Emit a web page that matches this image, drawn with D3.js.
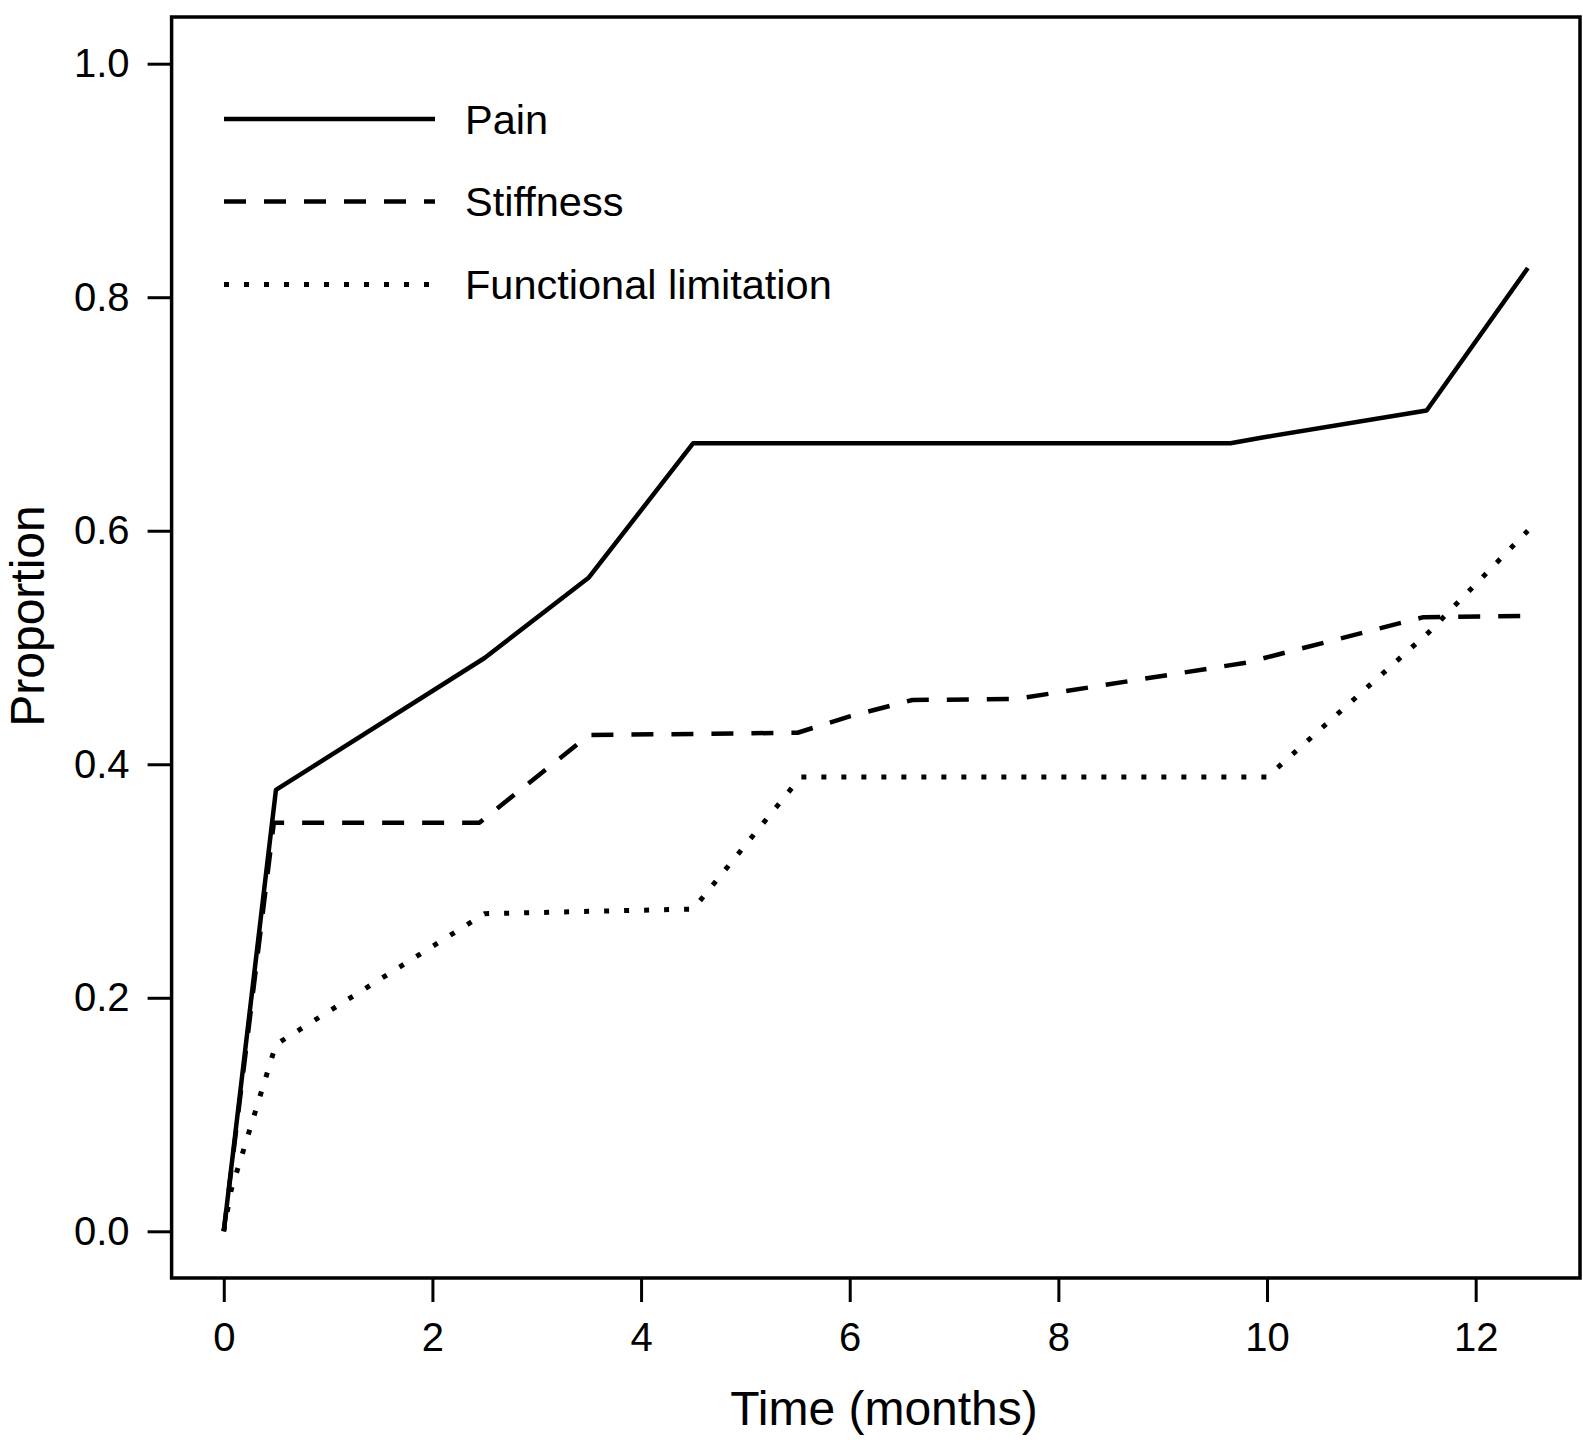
<!DOCTYPE html>
<html>
<head>
<meta charset="utf-8">
<script src="https://cdn.jsdelivr.net/npm/d3@7"></script>
<style>
  html, body { margin: 0; padding: 0; background: #fff; }
  text { font-family: "Liberation Sans", Arial, Helvetica, sans-serif; fill: #000; }
</style>
</head>
<body>
<svg id="chart" width="1583" height="1451"></svg>
<script>
// ---- Data ----
const painTime = [0, 0.5, 2.5, 3.5, 4.5, 9.65, 9.97, 11.53, 12.5];
const painProp = [0, 0.378, 0.491, 0.56, 0.675, 0.675, 0.680, 0.703, 0.825];

const stiffTime = [0, 0.48, 2.45, 3.5, 5.5, 6.0, 6.6, 7.6, 9.8, 11.5, 12.5];
const stiffProp = [0, 0.35, 0.35, 0.425, 0.427, 0.441, 0.455, 0.456, 0.487, 0.526, 0.527];

const funcTime = [0, 0.07, 0.5, 2.5, 4.5, 5.53, 10.0, 11.55, 12.5];
const funcProp = [0, 0.035, 0.16, 0.272, 0.276, 0.389, 0.389, 0.513, 0.600];

const seriesNames = ["Pain", "Stiffness", "Functional limitation"];
const xTicks = [0, 2, 4, 6, 8, 10, 12];
const yTicks = [0.0, 0.2, 0.4, 0.6, 0.8, 1.0];
const xTitle = "Time (months)";
const yTitle = "Proportion";

// ---- Layout ----
const svg = d3.select("#chart");
const L = 171.6, R = 1580, T = 17, B = 1278;

const x = d3.scaleLinear().domain([-0.5, 13]).range([L, R]);
const y = d3.scaleLinear().domain([-0.04, 1.04]).range([B, T]);

const series = [
  { name: seriesNames[0], t: painTime, p: painProp, dash: null, w: 4.5 },
  { name: seriesNames[1], t: stiffTime, p: stiffProp, dash: "22,18", w: 4.5 },
  { name: seriesNames[2], t: funcTime, p: funcProp, dash: "5,15", w: 5 }
];

const line = d3.line().x(d => x(d[0])).y(d => y(d[1])).curve(d3.curveLinear);

series.forEach(s => {
  const pts = s.t.map((v, i) => [v, s.p[i]]);
  svg.append("path")
    .attr("d", line(pts))
    .attr("fill", "none")
    .attr("stroke", "#000")
    .attr("stroke-width", s.w)
    .attr("stroke-linejoin", "round")
    .attr("stroke-dasharray", s.dash);
});

// ---- Axes ----
const xAxis = d3.axisBottom(x).tickValues(xTicks).tickSize(24).tickPadding(21).tickFormat(d3.format("d"));
const gx = svg.append("g").attr("transform", `translate(0,${B})`).call(xAxis);
gx.select(".domain").remove();
gx.selectAll(".tick line").attr("stroke", "#000").attr("stroke-width", 3);
gx.selectAll(".tick text").style("font-size", "40px").attr("fill", "#000");

const yAxis = d3.axisLeft(y).tickValues(yTicks).tickSize(24).tickPadding(18).tickFormat(d3.format(".1f"));
const gy = svg.append("g").attr("transform", `translate(${L},0)`).call(yAxis);
gy.select(".domain").remove();
gy.selectAll(".tick line").attr("stroke", "#000").attr("stroke-width", 3);
gy.selectAll(".tick text").style("font-size", "40px").attr("fill", "#000").attr("dy", "0.33em");

// ---- Box ----
svg.append("rect")
  .attr("x", L).attr("y", T)
  .attr("width", R - L).attr("height", B - T)
  .attr("fill", "none").attr("stroke", "#000").attr("stroke-width", 3.5);

// ---- Axis titles ----
svg.append("text")
  .attr("x", 884).attr("y", 1425)
  .attr("text-anchor", "middle")
  .style("font-size", "48px")
  .text(xTitle);

svg.append("text")
  .attr("transform", "translate(44,616) rotate(-90)")
  .attr("text-anchor", "middle")
  .style("font-size", "48px")
  .text(yTitle);

// ---- Legend ----
const legY = [119, 201.5, 284.5];
series.forEach((s, i) => {
  svg.append("line")
    .attr("x1", 224).attr("x2", 435)
    .attr("y1", legY[i]).attr("y2", legY[i])
    .attr("stroke", "#000")
    .attr("stroke-width", s.w)
    .attr("stroke-dasharray", s.dash);
  svg.append("text")
    .attr("x", 465).attr("y", legY[i] + 14.5)
    .style("font-size", "41.5px")
    .text(s.name);
});
</script>
</body>
</html>
